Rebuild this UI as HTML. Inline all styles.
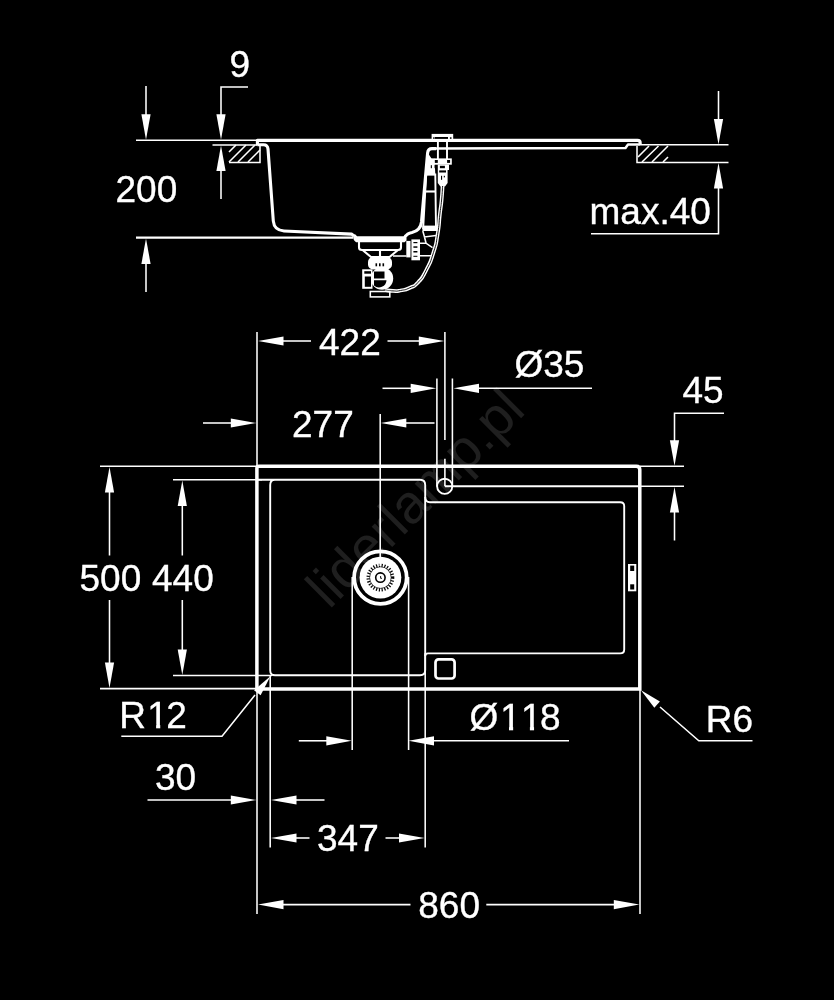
<!DOCTYPE html>
<html lang="en"><head><meta charset="utf-8"><title>Sink technical drawing</title>
<style>
html,body{margin:0;padding:0;background:#000;}
body{width:834px;height:1000px;overflow:hidden;}
svg{display:block;filter:grayscale(1);}
.t{stroke:#fff;stroke-width:1.55;fill:none;}
.n{stroke:#fff;stroke-width:1.9;fill:none;}
.m{stroke:#fff;stroke-width:2.1;fill:none;}
.k{stroke:#fff;stroke-width:3.5;fill:none;stroke-linejoin:round;stroke-linecap:butt;}
.ks{stroke:#fff;stroke-width:3.1;fill:none;stroke-linejoin:round;}
.ku{stroke:#fff;stroke-width:2.5;fill:none;stroke-linejoin:round;}
.a{fill:#fff;stroke:none;}
.wf{fill:#fff;stroke:none;}
.bf{fill:#000;stroke:none;}
text{font-family:"Liberation Sans",Arial,Helvetica,sans-serif;fill:#fff;stroke:#fff;stroke-width:0.35;font-kerning:none;}
.wm{fill:#1f1f1f;stroke:none;}
</style></head>
<body>
<svg width="834" height="1000" viewBox="0 0 834 1000">
<rect x="0" y="0" width="834" height="1000" fill="#000"/>
<text class="wm" x="0" y="0" font-size="54.7" transform="translate(329.3,610) rotate(-45)">liderlamp.pl</text>
<line class="t" x1="136" y1="140.3" x2="257" y2="140.3"/>
<line class="m" x1="136" y1="237.6" x2="353.5" y2="237.6"/>
<line class="t" x1="146" y1="86" x2="146" y2="115"/>
<polygon class="a" points="146.00,139.80 141.40,114.30 150.60,114.30"/>
<line class="t" x1="146" y1="262" x2="146" y2="292"/>
<polygon class="a" points="146.00,238.40 150.60,263.90 141.40,263.90"/>
<text x="115.5" y="202" font-size="37" text-anchor="start" >200</text>
<text x="229.5" y="77" font-size="37" text-anchor="start" >9</text>
<polyline class="t" points="248,87 221,87 221,115"/>
<polygon class="a" points="221.00,139.80 216.40,114.30 225.60,114.30"/>
<line class="t" x1="212.5" y1="145" x2="257" y2="145"/>
<polygon class="a" points="221.00,145.60 225.60,171.10 216.40,171.10"/>
<line class="t" x1="221" y1="170" x2="221" y2="199"/>
<polyline class="t" points="229,162.4 260,162.4 260,146"/>
<path class="t" d="M229,152 L236,145 M229,162 L246,145 M238,162 L255,145 M248,162 L260,150"/>
<path class="ks" d="M257.4,145.5 L257.4,140.4 L637.5,140.4 Q640.2,140.4 640.2,143 L640.2,145"/>
<path class="ks" d="M257.4,144.8 L263.5,144.8 Q267.6,144.8 268,149 L273.3,221 Q274.2,230.4 284,231 L351.5,234.1 L354,236"/>
<path class="ku" d="M640,144.6 L628,144.6 L625.5,148 L436,148.6"/>
<path class="ks" d="M436,148.6 L432,148.6 Q428,148.6 427.6,153 L421.5,222 Q420.5,230.5 412,232.5 Q407,233.5 405.5,236.5"/>
<polyline class="t" points="640,144.8 728.5,144.8"/>
<polyline class="t" points="637,146 637,162.5 728.5,162.5"/>
<path class="t" d="M638,157 L649,146 M642,162 L658.5,146 M652,162 L668,146 M663,162 L668,157"/>
<line class="t" x1="718.5" y1="91" x2="718.5" y2="119"/>
<polygon class="a" points="718.50,144.40 713.90,118.90 723.10,118.90"/>
<polygon class="a" points="718.50,163.00 723.10,188.50 713.90,188.50"/>
<polyline class="t" points="718.5,188 718.5,233.8 591,233.8"/>
<text x="589.5" y="223.8" font-size="37" text-anchor="start" >max.40</text>
<rect class="wf" x="431.6" y="133.9" width="21.6" height="5.5"/>
<rect class="bf" x="435" y="137" width="13" height="1.9"/>
<rect class="bf" x="433.1" y="137.3" width="1.6" height="1.5"/>
<rect class="bf" x="449.9" y="137.3" width="1.6" height="1.5"/>
<path class="t" style="stroke-width:1.9" d="M437.9,141 L437.9,159 M447,141 L447,159"/>
<rect class="wf" x="433.7" y="158.4" width="18.1" height="6.3"/>
<rect class="bf" x="434.6" y="160" width="3.2" height="2.9"/>
<rect class="bf" x="447.1" y="160" width="3" height="2.9"/>
<path class="wf" d="M437.8,164.5 L449,164.5 L449,170 L447.6,170 L447.6,183 L445,186.5 L440.4,186.5 L437.8,183 Z"/>
<rect class="bf" x="439.9" y="165.8" width="5" height="2.4"/>
<rect class="bf" x="439.2" y="170.4" width="6.8" height="2.1"/>
<rect class="bf" x="441" y="175.8" width="1.1" height="4"/>
<rect class="bf" x="443.8" y="175.8" width="1.1" height="1.6"/>
<path d="M442.60,186.00 C442.27,190.67 442.50,190.67 441.60,200.00 C440.70,209.33 441.23,202.53 439.90,214.00 C438.57,225.47 439.73,221.60 437.60,234.40 C435.47,247.20 437.27,240.53 433.50,252.40 C429.73,264.27 431.47,260.00 426.30,270.00 C421.13,280.00 423.43,276.50 418.00,282.40 C412.57,288.30 415.87,285.00 410.00,287.70 C404.13,290.40 406.07,289.43 400.40,290.50 C394.73,291.57 398.13,291.07 393.00,290.90 C387.87,290.73 387.67,290.30 385.00,290.00" fill="none" stroke="#fff" stroke-width="3.7"/>
<path d="M442.60,186.00 C442.27,190.67 442.50,190.67 441.60,200.00 C440.70,209.33 441.23,202.53 439.90,214.00 C438.57,225.47 439.73,221.60 437.60,234.40 C435.47,247.20 437.27,240.53 433.50,252.40 C429.73,264.27 431.47,260.00 426.30,270.00 C421.13,280.00 423.43,276.50 418.00,282.40 C412.57,288.30 415.87,285.00 410.00,287.70 C404.13,290.40 406.07,289.43 400.40,290.50 C394.73,291.57 398.13,291.07 393.00,290.90 C387.87,290.73 387.67,290.30 385.00,290.00" fill="none" stroke="#000" stroke-width="0.9"/>
<path class="wf" d="M427.6,152.5 L431.3,158.2 L434.4,158.6 L435.4,175.2 L425.2,175.2 Z"/>
<rect class="bf" x="430.8" y="165.2" width="1.1" height="3"/>
<rect class="bf" x="434.6" y="165.2" width="0.9" height="3"/>
<path class="t" style="stroke-width:1.9" d="M426.2,174.5 L435.3,174.5 L436,228 L423.2,228 Z"/>
<path class="m" d="M425.5,191.5 L435.5,191.5"/>
<rect class="wf" x="422.4" y="225.6" width="15" height="5.4"/>
<path class="t" d="M422.8,231 L424.5,237 L436,235.6 M424.5,237 L426,243"/>
<path class="wf" d="M353,234.5 L355.5,234.5 L357,236.2 L403.5,236.2 L405,234.5 L406.5,236.5 L406.5,240.5 L404.5,242.2 L356,242.2 L353.8,240 Z"/>
<path class="m" d="M359,242 L359,247.5 Q359,250 362,250 L398,250 Q401,250 401,247.5 L401,242"/>
<path class="m" d="M362.5,250 L371,257 L389.5,257 L398,250 M380,250 L380,257"/>
<rect class="wf" x="406.3" y="240.9" width="4.2" height="16.5"/>
<rect class="wf" x="411.4" y="239.4" width="8.6" height="20.9"/>
<rect x="410.5" y="241" width="0.9" height="16" fill="#888"/>
<rect class="bf" x="413.4" y="242" width="4" height="1.2"/>
<rect class="bf" x="413.4" y="246.3" width="4" height="1.5"/>
<rect class="bf" x="413.4" y="251" width="4" height="1.5"/>
<rect class="bf" x="413.4" y="255.8" width="4" height="1"/>
<path class="t" d="M393,256 L406.5,256 M420,243.2 L426,243.2 L432.5,247.6 M420,255.7 L431,255.7"/>
<rect class="wf" x="368" y="257" width="24" height="12.5" rx="5"/>
<rect class="bf" x="375.5" y="263.3" width="1.6" height="3"/>
<rect class="bf" x="379" y="263.3" width="1.6" height="3"/>
<rect class="bf" x="382.5" y="263.3" width="1.6" height="3"/>
<circle class="wf" cx="382" cy="278.5" r="11.2"/>
<rect class="wf" x="362.2" y="269.3" width="10.3" height="19.5"/>
<rect class="bf" x="364.3" y="271.2" width="6.7" height="2.5"/>
<rect class="bf" x="364.8" y="276.5" width="6.2" height="10.3"/>
<rect class="bf" x="374" y="271.5" width="10.5" height="7"/>
<path class="bf" d="M374,280.2 L386.5,280.2 A7.5,7.5 0 0 1 374,285.5 Z"/>
<rect class="t" x="370.3" y="291.5" width="19.5" height="5.4"/>
<path class="k" style="stroke-linejoin:miter" d="M256.9,688.9 L256.9,468.3 Q256.9,466.3 258.9,466.3 L636.3,466.3 Q639.8,466.3 639.8,469.8 L639.8,688.9 Z"/>
<path class="n" d="M257,479.8 L420,479.8 Q425.2,479.8 425.2,485 L425.2,670 Q425.2,675.3 420,675.3 L275,675.3 Q270.2,675.3 270.2,670.5 L270.2,485 Q270.2,479.8 275,479.8"/>
<path class="n" d="M425.2,497 Q425.2,502.2 430,502.2 L620.2,502.2 Q624.2,502.2 624.2,506 L624.2,649.5 Q624.2,653.4 620.2,653.4 L428,653.4 Q425.2,653.4 425.2,656"/>
<rect x="435.5" y="659.4" width="19.1" height="19.1" rx="3" fill="none" stroke="#fff" stroke-width="2.7"/>
<rect class="wf" x="628" y="564" width="8.3" height="27.3"/>
<rect class="bf" x="630.2" y="565.6" width="4" height="5.4"/>
<rect class="bf" x="630.2" y="584.3" width="4" height="5.2"/>
<circle cx="380.4" cy="577.6" r="26.3" fill="none" stroke="#fff" stroke-width="3.8"/>
<circle class="wf" cx="380.4" cy="577.6" r="20.9"/>
<circle cx="380.4" cy="577.6" r="12.3" fill="none" stroke="#000" stroke-width="3.2" stroke-dasharray="1.2 1.6"/>
<circle cx="380.4" cy="577.6" r="10.8" fill="none" stroke="#000" stroke-width="0.7"/>
<circle cx="380.4" cy="577.6" r="4.7" fill="none" stroke="#000" stroke-width="1.6"/>
<path d="M380.6,576 L380.6,578.3 L382,578.3" fill="none" stroke="#000" stroke-width="0.9"/>
<line class="t" x1="380.2" y1="414" x2="380.2" y2="566"/>
<line class="t" x1="352.2" y1="577" x2="352.2" y2="750"/>
<line class="t" x1="408.6" y1="577" x2="408.6" y2="750"/>
<path class="t" d="M436.9,378.5 L436.9,486.5 M452.4,378.5 L452.4,486.5"/>
<circle class="n" cx="444.7" cy="486.3" r="7.6"/>
<path class="t" d="M444.9,332 L444.9,440 M444.9,458.7 L444.9,486.3"/>
<path class="n" d="M444.9,486.3 L640,486.3"/>
<line class="t" x1="640" y1="486.3" x2="684" y2="486.3"/>
<line class="t" x1="257" y1="332" x2="257" y2="914"/>
<line class="t" x1="640" y1="688" x2="640" y2="914"/>
<line class="t" x1="270.2" y1="675" x2="270.2" y2="847.5"/>
<line class="t" x1="425.2" y1="653" x2="425.2" y2="847.5"/>
<line class="t" x1="100" y1="466.3" x2="257" y2="466.3"/>
<line class="t" x1="100" y1="688.6" x2="257" y2="688.6"/>
<line class="t" x1="173" y1="479.8" x2="262" y2="479.8"/>
<line class="t" x1="173" y1="675.4" x2="272" y2="675.4"/>
<line class="t" x1="640" y1="466.3" x2="684" y2="466.3"/>
<polygon class="a" points="258.00,341.00 283.50,336.40 283.50,345.60"/>
<line class="t" x1="283" y1="341" x2="311" y2="341"/>
<text x="319" y="354.5" font-size="37" text-anchor="start" >422</text>
<line class="t" x1="387.5" y1="341" x2="419" y2="341"/>
<polygon class="a" points="444.30,341.00 418.80,345.60 418.80,336.40"/>
<line class="t" x1="203" y1="423" x2="231" y2="423"/>
<polygon class="a" points="256.30,423.00 230.80,427.60 230.80,418.40"/>
<text x="292" y="436.8" font-size="37" text-anchor="start" >277</text>
<polygon class="a" points="380.80,423.00 406.30,418.40 406.30,427.60"/>
<line class="t" x1="406" y1="423" x2="434.5" y2="423"/>
<line class="t" x1="382.5" y1="388.3" x2="411" y2="388.3"/>
<polygon class="a" points="436.20,388.30 410.70,392.90 410.70,383.70"/>
<polygon class="a" points="453.50,388.30 479.00,383.70 479.00,392.90"/>
<line class="t" x1="478" y1="388.3" x2="592" y2="388.3"/>
<text x="514.4" y="377.2" font-size="37" text-anchor="start" >Ø35</text>
<text x="682.5" y="403" font-size="37" text-anchor="start" >45</text>
<polyline class="t" points="724,413.3 674.5,413.3 674.5,441"/>
<polygon class="a" points="674.50,465.80 669.90,440.30 679.10,440.30"/>
<polygon class="a" points="674.50,487.00 679.10,512.50 669.90,512.50"/>
<line class="t" x1="674.5" y1="512" x2="674.5" y2="540.5"/>
<polygon class="a" points="109.50,467.00 114.10,492.50 104.90,492.50"/>
<line class="t" x1="109.5" y1="492" x2="109.5" y2="555.5"/>
<line class="t" x1="109.5" y1="600" x2="109.5" y2="663"/>
<polygon class="a" points="109.50,688.00 104.90,662.50 114.10,662.50"/>
<text x="79.5" y="590.8" font-size="37" text-anchor="start" >500</text>
<polygon class="a" points="182.30,480.50 186.90,506.00 177.70,506.00"/>
<line class="t" x1="182.3" y1="505" x2="182.3" y2="555.5"/>
<line class="t" x1="182.3" y1="600" x2="182.3" y2="650"/>
<polygon class="a" points="182.30,675.00 177.70,649.50 186.90,649.50"/>
<text x="152" y="590.8" font-size="37" text-anchor="start" >440</text>
<text x="119.2 147.3 166.2" y="727.5" font-size="37" text-anchor="start" >R12</text>
<polyline class="t" points="121.3,736.3 222,736.3 255,695"/>
<polygon class="a" points="270.40,676.30 260.62,695.35 254.05,690.13"/>
<text x="705.8" y="732" font-size="37" text-anchor="start" >R6</text>
<polyline class="t" points="752.5,740.8 698.8,740.8 660,707"/>
<polygon class="a" points="641.00,690.30 659.88,701.40 654.32,707.69"/>
<text x="469.4 500.2 521.1 540" y="730" font-size="37" text-anchor="start" >Ø118</text>
<line class="t" x1="298.8" y1="740.8" x2="327" y2="740.8"/>
<polygon class="a" points="351.80,740.80 326.30,745.40 326.30,736.20"/>
<polygon class="a" points="408.50,740.80 434.00,736.20 434.00,745.40"/>
<line class="t" x1="433" y1="740.8" x2="569" y2="740.8"/>
<text x="155" y="790" font-size="37" text-anchor="start" >30</text>
<line class="t" x1="147.5" y1="800" x2="231" y2="800"/>
<polygon class="a" points="256.30,800.00 230.80,804.60 230.80,795.40"/>
<polygon class="a" points="271.00,800.00 296.50,795.40 296.50,804.60"/>
<line class="t" x1="296" y1="800" x2="324.5" y2="800"/>
<polygon class="a" points="271.00,838.00 296.50,833.40 296.50,842.60"/>
<line class="t" x1="296" y1="838" x2="309.5" y2="838"/>
<text x="317" y="850.8" font-size="37" text-anchor="start" >347</text>
<line class="t" x1="385.5" y1="838" x2="399" y2="838"/>
<polygon class="a" points="424.50,838.00 399.00,842.60 399.00,833.40"/>
<polygon class="a" points="258.00,904.60 283.50,900.00 283.50,909.20"/>
<line class="t" x1="283" y1="904.6" x2="410.5" y2="904.6"/>
<text x="418.3" y="917.5" font-size="37" text-anchor="start" >860</text>
<line class="t" x1="486.3" y1="904.6" x2="614" y2="904.6"/>
<polygon class="a" points="639.30,904.60 613.80,909.20 613.80,900.00"/>
<rect class="bf" x="501.00" y="726.40" width="8.00" height="5.4"/>
<rect class="bf" x="513.15" y="726.40" width="7.60" height="5.4"/>
<rect class="bf" x="521.90" y="726.40" width="8.00" height="5.4"/>
<rect class="bf" x="534.05" y="726.40" width="7.60" height="5.4"/>
<rect class="bf" x="148.10" y="723.90" width="8.00" height="5.4"/>
<rect class="bf" x="160.25" y="723.90" width="7.60" height="5.4"/>
</svg>
</body></html>
